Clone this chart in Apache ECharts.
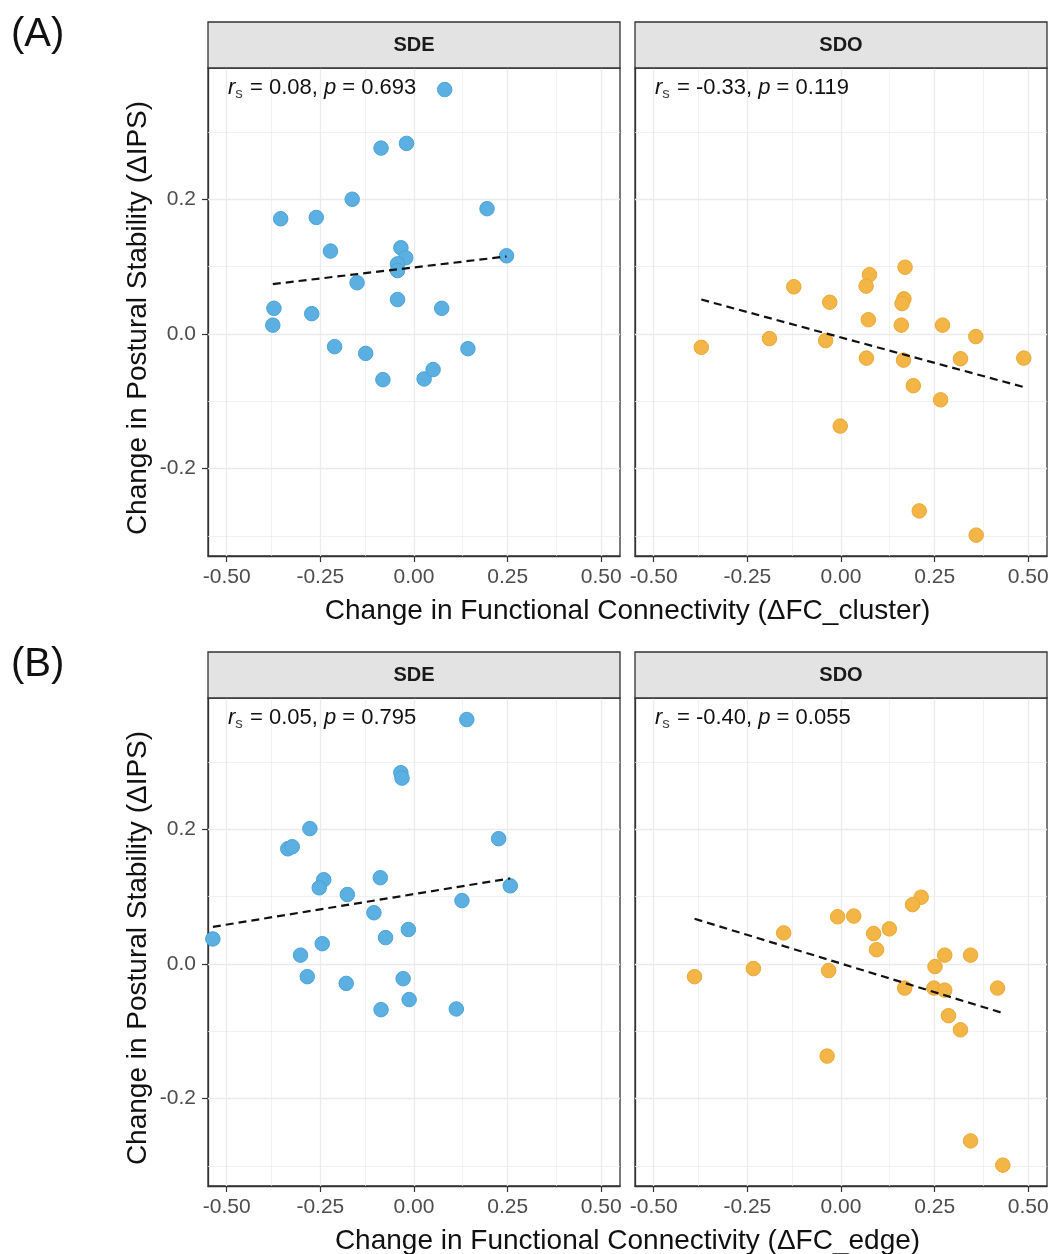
<!DOCTYPE html>
<html>
<head>
<meta charset="utf-8">
<script src="https://cdn.jsdelivr.net/npm/echarts@6/dist/echarts.min.js"></script>
<style>
  html, body { margin: 0; padding: 0; background: #ffffff; }
  #chart { width: 1052px; height: 1254px; }
</style>
</head>
<body>
<div id="chart"></div>
<script>
// ---------- DATA ----------
// Panel A: ΔFC_cluster vs ΔIPS
const clusterSdeX = [0.082, -0.088, -0.020, -0.165, -0.356, -0.261, 0.195, -0.223, -0.035, -0.022, -0.044, -0.044, 0.247, -0.152, -0.374, -0.273, -0.044, 0.074, -0.377, -0.212, -0.129, 0.144, -0.083, 0.027, 0.051];
const clusterSdeY = [0.363, 0.276, 0.283, 0.200, 0.171, 0.173, 0.186, 0.123, 0.128, 0.113, 0.104, 0.094, 0.116, 0.076, 0.038, 0.030, 0.051, 0.038, 0.013, -0.019, -0.029, -0.022, -0.068, -0.067, -0.053];
const clusterSdoX = [-0.126, -0.030, 0.076, 0.067, 0.171, 0.168, 0.163, 0.073, 0.161, 0.271, 0.360, -0.373, -0.191, -0.041, 0.068, 0.167, 0.319, 0.488, 0.193, 0.266, -0.002, 0.209, 0.361];
const clusterSdoY = [0.070, 0.047, 0.088, 0.071, 0.099, 0.052, 0.045, 0.021, 0.013, 0.013, -0.004, -0.020, -0.007, -0.010, -0.036, -0.039, -0.037, -0.036, -0.077, -0.098, -0.137, -0.263, -0.299];
// Panel B: ΔFC_edge vs ΔIPS
const edgeSdeX = [0.141, -0.035, -0.032, -0.278, -0.337, -0.325, 0.226, -0.241, -0.253, -0.090, -0.178, 0.257, 0.128, -0.107, -0.537, -0.245, -0.076, -0.015, -0.303, -0.285, -0.181, -0.029, -0.013, -0.088, 0.113];
const edgeSdeY = [0.363, 0.284, 0.276, 0.201, 0.171, 0.174, 0.186, 0.125, 0.113, 0.128, 0.103, 0.116, 0.094, 0.076, 0.037, 0.030, 0.039, 0.051, 0.013, -0.019, -0.029, -0.022, -0.053, -0.068, -0.067];
const edgeSdoX = [0.214, 0.191, -0.009, 0.034, -0.153, 0.087, 0.129, 0.095, 0.277, 0.346, 0.251, -0.391, -0.234, -0.033, 0.170, 0.248, 0.277, 0.418, 0.287, 0.319, -0.037, 0.346, 0.432];
const edgeSdoY = [0.099, 0.088, 0.070, 0.071, 0.046, 0.045, 0.052, 0.021, 0.013, 0.013, -0.004, -0.019, -0.007, -0.010, -0.036, -0.036, -0.039, -0.036, -0.077, -0.098, -0.137, -0.263, -0.299];
// Fitted linear trend lines (endpoints)
const fitClusterSde = [[-0.377, 0.074], [0.247, 0.115]];
const fitClusterSdo = [[-0.373, 0.051], [0.488, -0.079]];
const fitEdgeSde = [[-0.537, 0.055], [0.257, 0.127]];
const fitEdgeSdo = [[-0.391, 0.067], [0.432, -0.073]];
// Stats annotations
const statsClusterSde = ['0.08', '0.693'];
const statsClusterSdo = ['-0.33', '0.119'];
const statsEdgeSde = ['0.05', '0.795'];
const statsEdgeSdo = ['-0.40', '0.055'];
// Facets / texts
const facetNames = ['SDE', 'SDO'];
const panelLetters = ['(A)', '(B)'];
const xTitles = ['Change in Functional Connectivity (\u0394FC_cluster)', 'Change in Functional Connectivity (\u0394FC_edge)'];
const yTitle = 'Change in Postural Stability (\u0394IPS)';
// Ticks
const xTicks = [-0.5, -0.25, 0, 0.25, 0.5];
const xMinor = [-0.375, -0.125, 0.125, 0.375];
const yTicks = [-0.2, 0, 0.2];
const yMinor = [-0.3, -0.1, 0.1, 0.3];

// ---------- LAYOUT ----------
const FONT = '"Liberation Sans", Arial, Helvetica, sans-serif';
const panelLeft = [208, 635];
const panelTop = [68, 698];
const PW = 412, PH = 488;
const XMIN = -0.55, XMAX = 0.55, YMIN = -0.33, YMAX = 0.395;
const BLUE = '#5BB0E1', BLUE_B = '#4AA3D8';
const ORANGE = '#F2B546', ORANGE_B = '#E9A935';

const zip = (xs, ys) => xs.map((x, i) => [x, ys[i]]);
const panels = [
  { row: 0, col: 0, pts: zip(clusterSdeX, clusterSdeY), fit: fitClusterSde, stats: statsClusterSde, c: BLUE, b: BLUE_B },
  { row: 0, col: 1, pts: zip(clusterSdoX, clusterSdoY), fit: fitClusterSdo, stats: statsClusterSdo, c: ORANGE, b: ORANGE_B },
  { row: 1, col: 0, pts: zip(edgeSdeX, edgeSdeY), fit: fitEdgeSde, stats: statsEdgeSde, c: BLUE, b: BLUE_B },
  { row: 1, col: 1, pts: zip(edgeSdoX, edgeSdoY), fit: fitEdgeSdo, stats: statsEdgeSdo, c: ORANGE, b: ORANGE_B }
];

const grids = [], xAxes = [], yAxes = [], series = [], graphics = [];

const gridLineData = [];
xTicks.forEach(v => gridLineData.push({ xAxis: v, lineStyle: { width: 1.3, color: '#EBEBEB', type: 'solid' } }));
xMinor.forEach(v => gridLineData.push({ xAxis: v, lineStyle: { width: 0.7, color: '#EBEBEB', type: 'solid' } }));
yTicks.forEach(v => gridLineData.push({ yAxis: v, lineStyle: { width: 1.3, color: '#EBEBEB', type: 'solid' } }));
yMinor.forEach(v => gridLineData.push({ yAxis: v, lineStyle: { width: 0.7, color: '#EBEBEB', type: 'solid' } }));

panels.forEach((p, i) => {
  const left = panelLeft[p.col], top = panelTop[p.row];
  grids.push({ left: left, top: top, width: PW, height: PH, show: true, backgroundColor: '#fff', borderColor: '#333', borderWidth: 1.3, containLabel: false });
  xAxes.push({
    type: 'value', gridIndex: i, min: XMIN, max: XMAX,
    axisLine: { show: true, onZero: false, lineStyle: { color: '#333', width: 1.3 } },
    axisTick: { show: true, customValues: xTicks, length: 6, lineStyle: { color: '#333', width: 1.2 } },
    axisLabel: { show: true, customValues: xTicks, formatter: v => Number(v).toFixed(2), color: '#4D4D4D', fontSize: 21, fontFamily: FONT, margin: 11 },
    splitLine: { show: false }, minorSplitLine: { show: false }
  });
  yAxes.push({
    type: 'value', gridIndex: i, min: YMIN, max: YMAX,
    axisLine: { show: true, onZero: false, lineStyle: { color: '#333', width: 1.3 } },
    axisTick: { show: p.col === 0, customValues: yTicks, length: 6, lineStyle: { color: '#333', width: 1.2 } },
    axisLabel: { show: p.col === 0, customValues: yTicks, formatter: v => Number(v).toFixed(1), color: '#4D4D4D', fontSize: 21, fontFamily: FONT, margin: 12 },
    splitLine: { show: false }, minorSplitLine: { show: false }
  });
  series.push({
    type: 'scatter', xAxisIndex: i, yAxisIndex: i, data: p.pts, z: 2,
    symbol: 'circle', symbolSize: 14.5,
    itemStyle: { color: p.c, borderColor: p.b, borderWidth: 1, opacity: 1 },
    markLine: { silent: true, z: 1, symbol: ['none', 'none'], label: { show: false }, animation: false, lineStyle: { type: 'solid' }, emphasis: { disabled: true }, data: gridLineData }
  });
  series.push({
    type: 'line', xAxisIndex: i, yAxisIndex: i, data: p.fit, z: 3,
    showSymbol: false, symbol: 'none',
    lineStyle: { color: '#111', width: 2.2, type: [8, 5] }
  });
  // annotation
  graphics.push({
    type: 'text', left: left + 20, top: top + 9, z: 20,
    style: {
      text: '{i|r}{s|s}{n| = ' + p.stats[0] + ', }{i|p}{n| = ' + p.stats[1] + '}',
      rich: {
        i: { fontStyle: 'italic', fontSize: 22, fontFamily: FONT, fill: '#111', lineHeight: 26, verticalAlign: 'middle' },
        s: { fontSize: 15, fontFamily: FONT, fill: '#444', lineHeight: 26, verticalAlign: 'bottom', padding: [0, 1, 0, 0] },
        n: { fontSize: 22, fontFamily: FONT, fill: '#111', lineHeight: 26, verticalAlign: 'middle' }
      }
    }
  });
});

// strips
[0, 1].forEach(r => {
  [0, 1].forEach(c => {
    const left = panelLeft[c], top = panelTop[r];
    graphics.push({ type: 'rect', shape: { x: left, y: top - 46, width: PW, height: 46 }, style: { fill: '#E3E3E3', stroke: '#333', lineWidth: 1.3 }, z: 10 });
    graphics.push({ type: 'text', x: left + PW / 2, y: top - 23, z: 11,
      style: { text: facetNames[c], font: 'bold 20px ' + FONT, fill: '#1A1A1A', align: 'center', verticalAlign: 'middle', textAlign: 'center', textVerticalAlign: 'middle' } });
  });
  // panel letter
  graphics.push({ type: 'text', x: 11, y: panelTop[r] - 33, z: 11,
    style: { text: panelLetters[r], font: '40px ' + FONT, fill: '#111', align: 'left', verticalAlign: 'middle', textAlign: 'left', textVerticalAlign: 'middle' } });
  // x title
  graphics.push({ type: 'text', x: (panelLeft[0] + panelLeft[1] + PW) / 2, y: panelTop[r] + PH + 55, z: 11,
    style: { text: xTitles[r], font: '28px ' + FONT, fill: '#111', align: 'center', verticalAlign: 'middle', textAlign: 'center', textVerticalAlign: 'middle' } });
  // y title
  graphics.push({ type: 'text', x: 138, y: panelTop[r] + PH / 2 + 6, rotation: Math.PI / 2, z: 11,
    style: { text: yTitle, font: '28px ' + FONT, fill: '#111', align: 'center', verticalAlign: 'middle', textAlign: 'center', textVerticalAlign: 'middle' } });
});

const chart = echarts.init(document.getElementById('chart'), null, { renderer: 'canvas' });
chart.setOption({
  animation: false,
  backgroundColor: '#ffffff',
  grid: grids,
  xAxis: xAxes,
  yAxis: yAxes,
  series: series,
  graphic: { elements: graphics }
});
</script>
</body>
</html>
